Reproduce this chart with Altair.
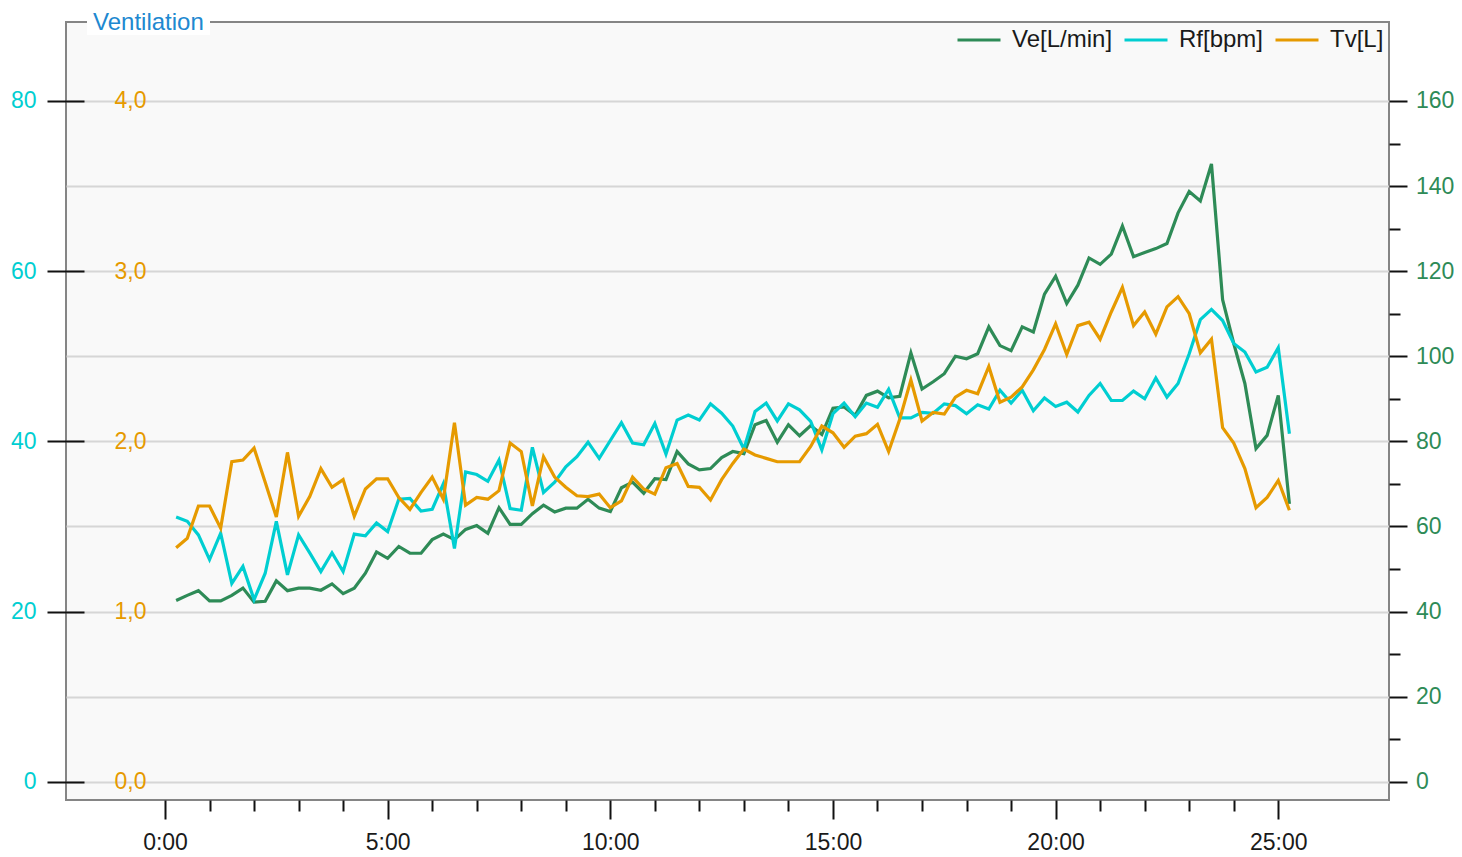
import altair as alt
import pandas as pd

# sample times in seconds (15 s steps)
time_s = [15, 30, 45, 60, 75, 90, 105, 120, 135, 150,
          165, 180, 195, 210, 225, 240, 255, 270, 285, 300,
          315, 330, 345, 360, 375, 390, 405, 420, 435, 450,
          465, 480, 495, 510, 525, 540, 555, 570, 585, 600,
          615, 630, 645, 660, 675, 690, 705, 720, 735, 750,
          765, 780, 795, 810, 825, 840, 855, 870, 885, 900,
          915, 930, 945, 960, 975, 990, 1005, 1020, 1035, 1050,
          1065, 1080, 1095, 1110, 1125, 1140, 1155, 1170, 1185, 1200,
          1215, 1230, 1245, 1260, 1275, 1290, 1305, 1320, 1335, 1350,
          1365, 1380, 1395, 1410, 1425, 1440, 1455, 1470, 1485, 1500,
          1515]

ve = [42.6, 43.8, 44.9, 42.5, 42.5, 43.8, 45.5, 42.2, 42.4, 47.2,
      44.9, 45.5, 45.5, 45.0, 46.5, 44.2, 45.5, 49.0, 54.0, 52.5,
      55.3, 53.7, 53.7, 56.9, 58.2, 56.9, 59.3, 60.2, 58.4, 64.4,
      60.5, 60.5, 63.0, 65.0, 63.4, 64.3, 64.3, 66.4, 64.3, 63.5,
      69.1, 70.4, 67.8, 71.2, 71.0, 77.6, 74.7, 73.3, 73.6, 76.2,
      77.6, 77.1, 83.9, 84.9, 79.8, 83.9, 81.3, 83.7, 81.6, 87.8,
      88.1, 86.1, 90.8, 91.8, 90.2, 90.6, 100.8, 92.3, 94.0, 95.9,
      100.0, 99.4, 100.6, 106.9, 102.5, 101.3, 106.9, 105.7, 114.6, 118.8,
      112.4, 116.7, 123.1, 121.6, 124.0, 130.6, 123.4, 124.4, 125.3, 126.5,
      133.7, 138.7, 136.5, 145.2, 113.3, 103.0, 93.6, 78.3, 81.4, 90.8,
      65.3]

rf = [31.1, 30.6, 29.0, 26.1, 29.2, 23.3, 25.3, 21.4, 24.5, 30.6,
      24.3, 29.0, 26.9, 24.7, 26.9, 24.7, 29.1, 28.9, 30.4, 29.4,
      33.2, 33.3, 31.8, 32.0, 35.0, 27.4, 36.4, 36.1, 35.3, 37.8,
      32.1, 31.9, 39.3, 34.0, 35.2, 37.0, 38.2, 39.9, 38.0, 40.1,
      42.2, 39.8, 39.6, 42.1, 38.5, 42.5, 43.1, 42.5, 44.4, 43.3,
      41.8, 39.1, 43.5, 44.5, 42.4, 44.4, 43.7, 42.35, 39.0, 43.25,
      44.5, 42.9, 44.5, 44.0, 46.1, 42.75, 42.75, 43.4, 43.3, 44.4,
      44.2, 43.25, 44.3, 43.8, 46.0, 44.5, 46.0, 43.6, 45.1, 44.1,
      44.6, 43.45, 45.4, 46.8, 44.8, 44.8, 45.9, 45.0, 47.45, 45.2,
      46.8, 50.3, 54.3, 55.5, 54.2, 51.5, 50.5, 48.15, 48.7, 51.0,
      40.9]

tv = [1.375, 1.43, 1.62, 1.62, 1.49, 1.88, 1.89, 1.96, 1.76, 1.555,
      1.935, 1.56, 1.675, 1.84, 1.73, 1.775, 1.56, 1.72, 1.78, 1.78,
      1.67, 1.60, 1.70, 1.79, 1.66, 2.11, 1.625, 1.67, 1.66, 1.71,
      1.99, 1.94, 1.62, 1.91, 1.79, 1.73, 1.68, 1.675, 1.69, 1.61,
      1.65, 1.79, 1.72, 1.69, 1.845, 1.87, 1.735, 1.73, 1.655, 1.775,
      1.87, 1.955, 1.92, 1.90, 1.88, 1.88, 1.88, 1.97, 2.09, 2.05,
      1.965, 2.03, 2.045, 2.10, 1.94, 2.13, 2.36, 2.12, 2.17, 2.16,
      2.26, 2.30, 2.28, 2.44, 2.23, 2.26, 2.32, 2.42, 2.54, 2.69,
      2.51, 2.68, 2.70, 2.60, 2.76, 2.905, 2.68, 2.76, 2.63, 2.79,
      2.85, 2.75, 2.52, 2.60, 2.08, 1.99, 1.84, 1.61, 1.67, 1.77,
      1.595]

series_names = ["Ve[L/min]", "Rf[bpm]", "Tv[L]"]
series_colors = ["#2E8B57", "#00CED1", "#E69A00"]

x_major_ticks = [0, 300, 600, 900, 1200, 1500]
x_minor_ticks = [60, 120, 180, 240, 360, 420, 480, 540, 660, 720, 780, 840,
                 960, 1020, 1080, 1140, 1260, 1320, 1380, 1440]
ve_major_ticks = [0, 20, 40, 60, 80, 100, 120, 140, 160]
ve_minor_ticks = [10, 30, 50, 70, 90, 110, 130, 150]
rf_ticks = [0, 20, 40, 60, 80]
tv_ticks = [0.0, 1.0, 2.0, 3.0, 4.0]

title_text = ["Ventilation"]

df_ve = pd.DataFrame({"t": time_s, "value": ve, "series": series_names[0]})
df_rf = pd.DataFrame({"t": time_s, "value": rf, "series": series_names[1]})
df_tv = pd.DataFrame({"t": time_s, "value": tv, "series": series_names[2]})
df_title = pd.DataFrame({"label": title_text})

FONT = "Liberation Sans"
FS = 23      # axis labels
FS_BIG = 24  # legend and title
LW = 3.2
W, H = 1323, 778
X_DOM = [-133.4, 1649.2]
LEFT_DOM = [-2.15, 89.28]
VE_DOM = [-4.3, 178.56]
TV_DOM = [-0.1075, 4.464]

xscale = alt.Scale(domain=X_DOM, nice=False, zero=False)

color = alt.Color(
    "series:N",
    scale=alt.Scale(domain=series_names, range=series_colors),
    legend=alt.Legend(
        title=None, orient="none", legendX=890, legendY=-5,
        direction="horizontal", symbolType="stroke", symbolSize=1849,
        symbolStrokeWidth=3, labelFontSize=FS_BIG, labelFont=FONT,
        labelColor="#1a1a1a", labelOffset=10, columnPadding=5, padding=0,
    ),
)

x_major = alt.X(
    "t:Q", scale=xscale, title=None,
    axis=alt.Axis(orient="bottom", values=x_major_ticks,
                  labelExpr="(datum.value / 60) + ':00'",
                  tickSize=19, tickWidth=2, tickColor="#111", domain=False,
                  grid=False, labelFontSize=FS, labelFont=FONT,
                  labelColor="#1a1a1a", labelPadding=12),
)
x_minor = alt.X(
    "t:Q", scale=xscale, title=None,
    axis=alt.Axis(orient="bottom", values=x_minor_ticks, labels=False, tickSize=11,
                  tickWidth=2, tickColor="#111", domain=False, grid=False),
)
x_none = alt.X("t:Q", scale=xscale, title=None, axis=None)

ve_line = alt.Chart(df_ve).mark_line(strokeWidth=LW).encode(
    x=x_major,
    y=alt.Y("value:Q", scale=alt.Scale(domain=VE_DOM, nice=False, zero=False), title=None,
            axis=alt.Axis(orient="right", values=ve_major_ticks, tickSize=18, tickWidth=2,
                          tickColor="#111", domain=False, grid=True, gridColor="#d6d6d6",
                          gridWidth=1.8, labelFontSize=FS, labelFont=FONT,
                          labelColor=series_colors[0], labelPadding=8.5)),
    color=color,
)

ve_minor = alt.Chart(df_ve).mark_line(strokeOpacity=0).encode(
    x=x_minor,
    y=alt.Y("value:Q", scale=alt.Scale(domain=VE_DOM, nice=False, zero=False), title=None,
            axis=alt.Axis(orient="right", values=ve_minor_ticks, labels=False, tickSize=11,
                          tickWidth=2, tickColor="#111", domain=False, grid=False)),
)

rf_line = alt.Chart(df_rf).mark_line(strokeWidth=LW).encode(
    x=x_none,
    y=alt.Y("value:Q", scale=alt.Scale(domain=LEFT_DOM, nice=False, zero=False), title=None,
            axis=alt.Axis(orient="left", values=rf_ticks, offset=-18, tickSize=37, tickWidth=2,
                          tickColor="#111", domain=False, grid=False, labelFontSize=FS,
                          labelFont=FONT, labelColor=series_colors[1], labelPadding=11)),
    color=color,
)

tv_line = alt.Chart(df_tv).mark_line(strokeWidth=LW).encode(
    x=x_none,
    y=alt.Y("value:Q", scale=alt.Scale(domain=TV_DOM, nice=False, zero=False), title=None,
            axis=alt.Axis(orient="left", values=tv_ticks, offset=-80, ticks=False, tickSize=0,
                          domain=False, grid=False, labelFontSize=FS, labelFont=FONT,
                          labelColor=series_colors[2], labelPadding=0,
                          labelExpr="replace(format(datum.value, '.1f'), '.', ',')")),
    color=color,
)

title_bg = alt.Chart(df_title).mark_rect(color="white").encode(
    x=alt.value(21), x2=alt.value(144), y=alt.value(-14), y2=alt.value(13)
)
title_txt = alt.Chart(df_title).mark_text(
    align="left", baseline="alphabetic", fontSize=FS_BIG, font=FONT, color="#2088D0"
).encode(x=alt.value(27), y=alt.value(8), text="label:N")

chart = (
    alt.layer(ve_line, ve_minor, rf_line, tv_line, title_bg, title_txt)
    .resolve_scale(y="independent")
    .resolve_axis(x="independent", y="independent")
    .properties(
        width=W, height=H,
        autosize=alt.AutoSizeParams(type="none"),
        padding={"left": 58, "top": 14, "right": 65, "bottom": 56},
        background="white",
    )
    .configure_view(fill="#f9f9f9", stroke="#858585", strokeWidth=2)
)

chart.save("out.html", embed_options={"renderer": "svg", "actions": False})
